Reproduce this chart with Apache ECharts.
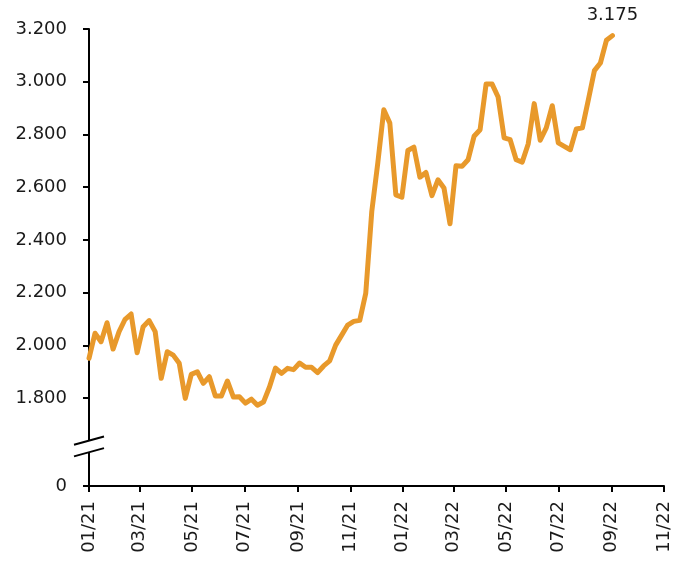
<!DOCTYPE html>
<html><head><meta charset="utf-8">
<script src="https://cdn.jsdelivr.net/npm/echarts@6/dist/echarts.min.js"></script>
<style>html,body{margin:0;padding:0;background:#fff}#c{width:686px;height:564px}</style>
</head><body><div id="c"></div>
<script>
// ---- data ----
const startDate = [2021, 0, 1];       // first weekly observation
const stepDays = 7;                    // weekly series
const values = [
  1951, 2046, 2014, 2086, 1986, 2052, 2099, 2119, 1972, 2071,
  2094, 2052, 1875, 1976, 1963, 1932, 1799, 1890, 1900, 1856,
  1881, 1808, 1808, 1865, 1804, 1805, 1781, 1796, 1773, 1785,
  1842, 1914, 1894, 1913, 1908, 1933, 1917, 1917, 1897, 1922,
  1941, 2001, 2039, 2077, 2091, 2095, 2198, 2508, 2692, 2894,
  2843, 2571, 2562, 2739, 2752, 2638, 2656, 2568, 2628, 2597,
  2461, 2681, 2679, 2704, 2793, 2818, 2991, 2991, 2942, 2787,
  2780, 2704, 2695, 2764, 2917, 2778, 2825, 2909, 2768, 2755,
  2742, 2821, 2825, 2932, 3042, 3071, 3157, 3175
];
const yTicks = [1800, 2000, 2200, 2400, 2600, 2800, 3000, 3200];
const yZeroLabel = '0';
const xTickMonths = [
  [2021,0],[2021,2],[2021,4],[2021,6],[2021,8],[2021,10],
  [2022,0],[2022,2],[2022,4],[2022,6],[2022,8],[2022,10]
];

// ---- build ----
const yMax = 3200;
const yBreakBase = yTicks[0] - 200 * (5/3);   // axis bottom, labelled "0" (broken axis)
const DAY = 86400000;
const t0 = Date.UTC(startDate[0], startDate[1], startDate[2]);
const seriesData = values.map((v, i) => [t0 + i * stepDays * DAY, v]);
const lastIdx = seriesData.length - 1;
const xTicks = xTickMonths.map(m => Date.UTC(m[0], m[1], 1));

function fmtNum(v) {
  const s = String(Math.round(v));
  return s.length > 3 ? s.slice(0, -3) + '.' + s.slice(-3) : s;
}
function fmtDate(val) {
  const d = new Date(Math.round(val / DAY) * DAY);
  const mm = String(d.getUTCMonth() + 1).padStart(2, '0');
  return mm + '/' + String(d.getUTCFullYear()).slice(2);
}

const FONT = 'DejaVu Sans';
const TXT = '#1a1a1a';
const ORANGE = '#E8992B';

const chart = echarts.init(document.getElementById('c'), null, {renderer: 'canvas'});
chart.setOption({
  animation: false,
  backgroundColor: '#fff',
  grid: {left: 89, right: 22, top: 29, bottom: 78, containLabel: false},
  xAxis: {
    type: 'value',
    min: xTicks[0],
    max: xTicks[xTicks.length - 1],
    axisLine: {show: true, lineStyle: {color: '#000', width: 2}},
    axisTick: {show: true, length: 6, lineStyle: {color: '#000', width: 2}, customValues: xTicks},
    axisLabel: {
      rotate: 90, margin: 15, fontFamily: FONT, fontSize: 18, color: TXT,
      customValues: xTicks, formatter: fmtDate, showMinLabel: true, showMaxLabel: true
    },
    splitLine: {show: false}
  },
  yAxis: {
    type: 'value',
    min: yBreakBase,
    max: yMax,
    axisLine: {show: true, lineStyle: {color: '#000', width: 2}},
    axisTick: {show: true, length: 6, lineStyle: {color: '#000', width: 2}, customValues: [yBreakBase].concat(yTicks)},
    axisLabel: {
      margin: 22, fontFamily: FONT, fontSize: 18, color: TXT,
      customValues: [yBreakBase].concat(yTicks),
      formatter: v => (v < yTicks[0] - 1 ? yZeroLabel : fmtNum(v))
    },
    splitLine: {show: false}
  },
  series: [{
    type: 'line',
    data: seriesData.map((p, i) => i === lastIdx ? {
      value: p,
      label: {show: true, position: 'top', distance: 11, formatter: o => fmtNum(o.value[1]),
              fontFamily: FONT, fontSize: 18, color: TXT}
    } : p),
    showSymbol: true,
    symbol: 'circle',
    symbolSize: 0,
    lineStyle: {color: ORANGE, width: 5, join: 'round', cap: 'round'},
    itemStyle: {color: ORANGE},
    z: 3
  }]
});

// axis break marks
const pBase = chart.convertToPixel({gridIndex: 0}, [xTicks[0], yBreakBase]);
const p18 = chart.convertToPixel({gridIndex: 0}, [xTicks[0], yTicks[0]]);
const cx = pBase[0];
const cy = pBase[1] - 0.45 * (pBase[1] - p18[1]);
const half = 5.8, hw = 15, dy = 4.15;
chart.setOption({
  graphic: [
    {type: 'polygon', z: 100, shape: {points: [[cx - 4, cy - half + 1.1], [cx + 4, cy - half - 1.1], [cx + 4, cy + half - 1.1], [cx - 4, cy + half + 1.1]]},
     style: {fill: '#fff'}},
    {type: 'line', z: 101, shape: {x1: cx - hw, y1: cy - half + dy, x2: cx + hw, y2: cy - half - dy}, style: {stroke: '#000', lineWidth: 2}},
    {type: 'line', z: 101, shape: {x1: cx - hw, y1: cy + half + dy, x2: cx + hw, y2: cy + half - dy}, style: {stroke: '#000', lineWidth: 2}}
  ]
});
</script>
</body></html>
